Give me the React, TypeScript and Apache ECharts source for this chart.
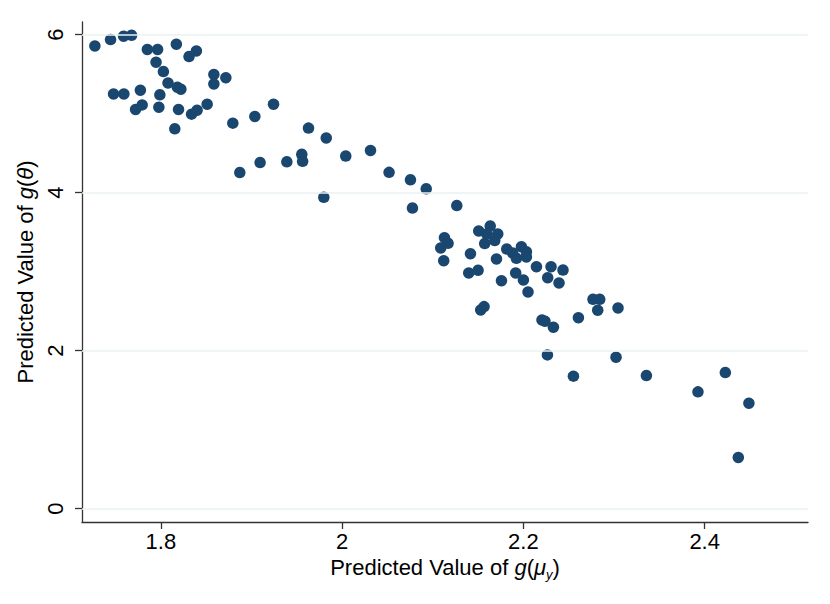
import React, { useEffect, useRef } from "react";
import * as echarts from "echarts";

const xValues: number[] = [
  1.7272, 1.7445, 1.7589, 1.7677, 1.7851, 1.7964, 1.8171, 1.8311, 1.8392, 1.7947,
  1.8028, 1.8079, 1.8182, 1.8221, 1.8585, 1.8585, 1.8717, 1.7478, 1.7592, 1.7774,
  1.7989, 1.7721, 1.7794, 1.7978, 1.8195, 1.8339, 1.84, 1.8511, 1.8154, 1.8794,
  1.9037, 1.9243, 1.9629, 1.9825, 1.8871, 1.9095, 1.939, 1.9555, 1.9564, 1.9798,
  2.004, 2.0313, 2.0518, 2.0754, 2.0928, 2.0776, 2.1265, 2.1129, 2.1169, 2.1088,
  2.1121, 2.1416, 2.1397, 2.15, 2.1507, 2.1634, 2.1717, 2.1684, 2.1573, 2.1595,
  2.1703, 2.1816, 2.1882, 2.1978, 2.2033, 2.1923, 2.2033, 2.1915, 2.2, 2.1758,
  2.2051, 2.2144, 2.2305, 2.2268, 2.2437, 2.2393, 2.1529, 2.1566, 2.2205, 2.2238,
  2.2331, 2.2607, 2.2768, 2.2842, 2.282, 2.3044, 2.2265, 2.2552, 2.3022, 2.3357,
  2.3926, 2.4228, 2.4488, 2.4371,
];

const yValues: number[] = [
  5.857, 5.938, 5.98, 5.992, 5.812, 5.812, 5.879, 5.723, 5.794, 5.651,
  5.533, 5.388, 5.335, 5.31, 5.496, 5.376, 5.455, 5.25, 5.25, 5.297,
  5.238, 5.053, 5.111, 5.082, 5.053, 4.994, 5.044, 5.12, 4.808, 4.88,
  4.965, 5.12, 4.817, 4.693, 4.254, 4.381, 4.391, 4.485, 4.397, 3.942,
  4.463, 4.535, 4.257, 4.163, 4.049, 3.805, 3.837, 3.43, 3.359, 3.3,
  3.139, 3.228, 2.984, 3.018, 3.515, 3.578, 3.477, 3.394, 3.356, 3.477,
  3.161, 3.287, 3.236, 3.316, 3.253, 3.169, 3.186, 2.984, 2.895, 2.886,
  2.743, 3.063, 3.063, 2.924, 3.021, 2.857, 2.516, 2.558, 2.389, 2.373,
  2.297, 2.418, 2.651, 2.651, 2.512, 2.541, 1.947, 1.678, 1.918, 1.685,
  1.479, 1.723, 1.336, 0.649,
];

const xTicks: number[] = [1.8, 2, 2.2, 2.4];
const yTicks: number[] = [0, 2, 4, 6];

const FONT = "'Liberation Sans', Arial, Helvetica, sans-serif";
const FS = 22;

export default function App() {
  const ref = useRef<HTMLDivElement>(null);

  useEffect(() => {
    document.body.style.margin = "0";
    if (!ref.current) return;
    const chart = echarts.init(ref.current, undefined, { renderer: "svg" });
    const points = xValues.map((x, i) => [x, yValues[i]]);
    const axisLineStyle = { color: "#333333", width: 1.3 };
    chart.setOption({
      animation: false,
      backgroundColor: "#ffffff",
      textStyle: { fontFamily: FONT },
      grid: { left: 82, right: 22, top: 22, bottom: 82, containLabel: false },
      xAxis: {
        type: "value",
        min: 1.713,
        max: 2.514,
        splitLine: { show: false },
        axisLine: { show: true, onZero: false, lineStyle: axisLineStyle },
        axisTick: {
          show: true,
          length: 7,
          lineStyle: axisLineStyle,
          customValues: xTicks,
        },
        axisLabel: {
          color: "#000000",
          fontSize: FS,
          fontFamily: FONT,
          margin: 8,
          customValues: xTicks,
          formatter: (v: number) => String(Math.round(v * 10) / 10),
        },
        name: "{a|Predicted Value of }{i|g}{a|(}{i|μ}{s|y}{a|)}",
        nameLocation: "middle",
        nameGap: 28,
        nameTextStyle: {
          rich: {
            a: { fontSize: FS, color: "#000", fontFamily: FONT, lineHeight: 26, verticalAlign: "middle" },
            i: { fontSize: FS, color: "#000", fontFamily: FONT, fontStyle: "italic", lineHeight: 26, verticalAlign: "middle" },
            s: { fontSize: 13, color: "#000", fontFamily: FONT, fontStyle: "italic", lineHeight: 14, verticalAlign: "bottom", padding: [8, 0, 0, 0] },
          },
        },
      },
      yAxis: {
        type: "value",
        min: -0.168,
        max: 6.16,
        splitLine: { show: false },
        axisLine: { show: true, onZero: false, lineStyle: axisLineStyle },
        axisTick: {
          show: true,
          length: 7,
          lineStyle: axisLineStyle,
          customValues: yTicks,
        },
        axisLabel: {
          color: "#000000",
          fontSize: FS,
          fontFamily: FONT,
          margin: 16,
          rotate: 90,
          customValues: yTicks,
          formatter: (v: number) => String(Math.round(v)),
        },
        name: "{a|Predicted Value of }{i|g}{a|(}{i|θ}{a|)}",
        nameLocation: "middle",
        nameGap: 37,
        nameTextStyle: {
          rich: {
            a: { fontSize: FS, color: "#000", fontFamily: FONT },
            i: { fontSize: FS, color: "#000", fontFamily: FONT, fontStyle: "italic" },
          },
        },
      },
      series: [
        {
          type: "line",
          data: yTicks.map((t) => [1.713, t]),
          showSymbol: false,
          lineStyle: { opacity: 0 },
          silent: true,
          markLine: {
            silent: true,
            symbol: "none",
            label: { show: false },
            lineStyle: { color: "#eaf0f2", width: 1.5, type: "solid" },
            data: yTicks.map((t) => ({ yAxis: t })),
          },
          z: 1,
        },
        {
          type: "scatter",
          data: points,
          symbol: "circle",
          symbolSize: 11.5,
          itemStyle: { color: "#1a476f", opacity: 1, borderWidth: 0 },
          z: 3,
        },
      ],
    });
    return () => chart.dispose();
  }, []);

  return <div ref={ref} style={{ width: 830, height: 604 }} />;
}
